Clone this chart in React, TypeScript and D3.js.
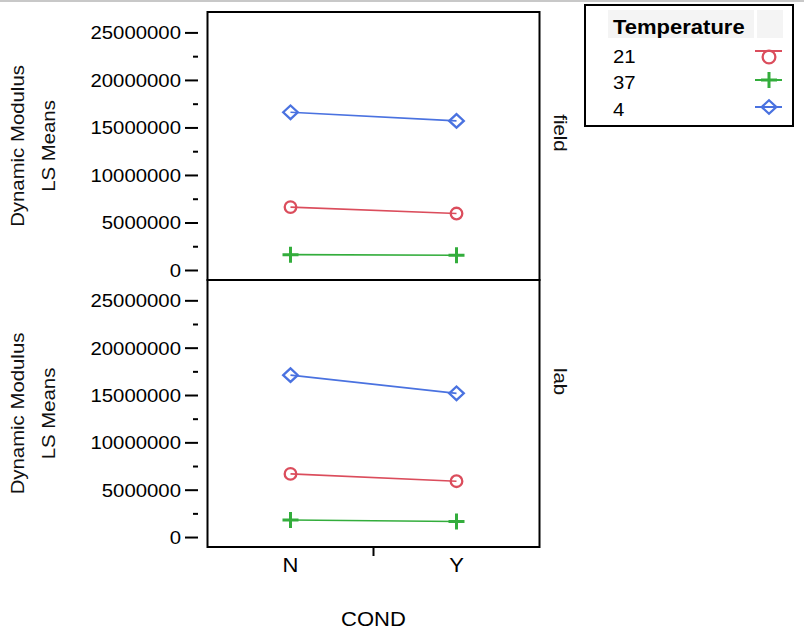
import React, { useEffect, useRef } from "react";
import * as d3 from "d3";

const conds = ["N", "Y"];
const temps = ["21", "37", "4"];
const panels = ["field", "lab"];
const fieldValues: Record<string, number[]> = {
  "21": [6670000, 5990000],
  "37": [1670000, 1600000],
  "4": [16650000, 15740000],
};
const labValues: Record<string, number[]> = {
  "21": [6720000, 5950000],
  "37": [1850000, 1690000],
  "4": [17150000, 15230000],
};
const majorTicks = [0, 5000000, 10000000, 15000000, 20000000, 25000000];
const minorTicks = [2500000, 7500000, 12500000, 17500000, 22500000];
const colors: Record<string, string> = { "21": "#db4d5c", "37": "#33ad3c", "4": "#4a72e0" };
const symbols: Record<string, string> = { "21": "circle", "37": "plus", "4": "diamond" };

const FONT = "'Liberation Sans', Arial, Helvetica, sans-serif";

export default function App() {
  const ref = useRef<SVGSVGElement | null>(null);
  useEffect(() => {
    const svg = d3.select(ref.current);
    svg.selectAll("*").remove();
    const W = 804, H = 631;
    svg.append("rect").attr("width", W).attr("height", H).attr("fill", "#fff");
    svg.append("rect").attr("x", 0).attr("y", 0).attr("width", W).attr("height", 2).attr("fill", "#c8c8c8");

    const left = 207.5, right = 539.5;
    const panelBounds = [
      [12, 280],
      [280, 547],
    ];
    const x = d3.scalePoint<string>().domain(conds).range([left, right]).padding(0.5);
    const dataByPanel = [fieldValues, labValues];

    const drawSymbol = (g: any, type: string, cx: number, cy: number, color: string, scale = 1) => {
      if (type === "circle") {
        g.append("circle").attr("cx", cx).attr("cy", cy).attr("r", 5.8 * scale)
          .attr("fill", "none").attr("stroke", color).attr("stroke-width", 2.3);
      } else if (type === "plus") {
        const s = 8 * scale;
        g.append("path").attr("d", `M${cx - s},${cy}H${cx + s}M${cx},${cy - s}V${cy + s}`)
          .attr("stroke", color).attr("stroke-width", 3).attr("fill", "none");
      } else {
        const sx = 7.3 * scale, sy = 6.8 * scale;
        g.append("path").attr("d", `M${cx - sx},${cy}L${cx},${cy - sy}L${cx + sx},${cy}L${cx},${cy + sy}Z`)
          .attr("stroke", color).attr("stroke-width", 2.3).attr("fill", "none");
      }
    };

    panelBounds.forEach(([top, bottom], pi) => {
      const y = d3.scaleLinear().domain([-1000000, 27200000]).range([bottom, top]);
      const g = svg.append("g");
      majorTicks.forEach((t) => {
        g.append("line").attr("x1", 185).attr("x2", 198).attr("y1", y(t)).attr("y2", y(t))
          .attr("stroke", "#000").attr("stroke-width", 2);
        g.append("text").attr("class", "stretch").attr("x", 181).attr("y", y(t)).attr("dy", "0.35em")
          .attr("text-anchor", "end").attr("font-family", FONT).attr("font-size", 18.5).attr("fill", "#000")
          .text(String(t));
      });
      minorTicks.forEach((t) => {
        g.append("line").attr("x1", 193).attr("x2", 198).attr("y1", y(t)).attr("y2", y(t))
          .attr("stroke", "#000").attr("stroke-width", 2);
      });
      const cy = (top + bottom) / 2;
      g.append("text").attr("class", "stretch").attr("transform", `translate(24,${cy}) rotate(-90)`)
        .attr("text-anchor", "middle").attr("font-family", FONT).attr("font-size", 18.5).attr("fill", "#111")
        .text("Dynamic Modulus");
      g.append("text").attr("class", "stretch").attr("transform", `translate(55,${cy}) rotate(-90)`)
        .attr("text-anchor", "middle").attr("font-family", FONT).attr("font-size", 18.5).attr("fill", "#111")
        .text("LS Means");
      const vals = dataByPanel[pi];
      temps.forEach((tp) => {
        const line = d3.line<number>().x((_, i) => x(conds[i])!).y((v) => y(v));
        g.append("path").attr("d", line(vals[tp])!).attr("fill", "none")
          .attr("stroke", colors[tp]).attr("stroke-width", 1.6);
        vals[tp].forEach((v, i) => drawSymbol(g, symbols[tp], x(conds[i])!, y(v), colors[tp]));
      });
      g.append("rect").attr("x", left).attr("y", top).attr("width", right - left).attr("height", bottom - top)
        .attr("fill", "none").attr("stroke", "#000").attr("stroke-width", 2);
      const ly = pi === 0 ? 133 : 381.5;
      g.append("text").attr("class", "stretch").attr("transform", `translate(554,${ly}) rotate(90)`)
        .attr("text-anchor", "middle").attr("font-family", FONT).attr("font-size", 18.5).attr("fill", "#111")
        .text(panels[pi]);
    });

    const bottomY = 547;
    svg.append("line").attr("x1", (left + right) / 2).attr("x2", (left + right) / 2)
      .attr("y1", bottomY).attr("y2", 556).attr("stroke", "#000").attr("stroke-width", 2);
    conds.forEach((c) => {
      svg.append("text").attr("class", "stretch").attr("x", x(c)!).attr("y", 571.5).attr("text-anchor", "middle")
        .attr("font-family", FONT).attr("font-size", 20).attr("fill", "#000").text(c);
    });
    svg.append("text").attr("class", "stretch").attr("x", (left + right) / 2).attr("y", 625.5).attr("text-anchor", "middle")
      .attr("font-family", FONT).attr("font-size", 20).attr("fill", "#000").text("COND");

    const lg = svg.append("g");
    lg.append("rect").attr("x", 585).attr("y", 5).attr("width", 208).attr("height", 121)
      .attr("fill", "#fff").attr("stroke", "#000").attr("stroke-width", 2);
    lg.append("rect").attr("x", 608).attr("y", 10).attr("width", 146).attr("height", 28).attr("fill", "#f4f4f4");
    lg.append("rect").attr("x", 757).attr("y", 10).attr("width", 26).attr("height", 28).attr("fill", "#f4f4f4");
    lg.append("text").attr("class", "stretch").attr("x", 613).attr("y", 34).attr("font-family", FONT)
      .attr("font-size", 20).attr("font-weight", "bold").attr("fill", "#000").text("Temperature");
    const rowY = [57, 82.5, 110];
    const lineY = [51, 80, 107];
    temps.forEach((tp, i) => {
      lg.append("text").attr("class", "stretch").attr("x", 613).attr("y", rowY[i]).attr("dy", "0.35em")
        .attr("font-family", FONT).attr("font-size", 18.5).attr("fill", "#000").text(tp);
      lg.append("line").attr("x1", 755).attr("x2", 782).attr("y1", lineY[i]).attr("y2", lineY[i])
        .attr("stroke", colors[tp]).attr("stroke-width", 2);
      const sy = symbols[tp] === "circle" ? 57 : lineY[i];
      drawSymbol(lg, symbols[tp], 769, sy, colors[tp], symbols[tp] === "circle" ? 1.1 : 1);
    });

    svg.selectAll<SVGTextElement, unknown>("text.stretch").each(function () {
      const l = this.getComputedTextLength();
      this.setAttribute("textLength", String(l * 1.1));
      this.setAttribute("lengthAdjust", "spacingAndGlyphs");
    });
  }, []);
  return (
    <div style={{ position: "absolute", left: 0, top: 0 }}>
      <svg ref={ref} width={804} height={631} style={{ display: "block" }} />
    </div>
  );
}
